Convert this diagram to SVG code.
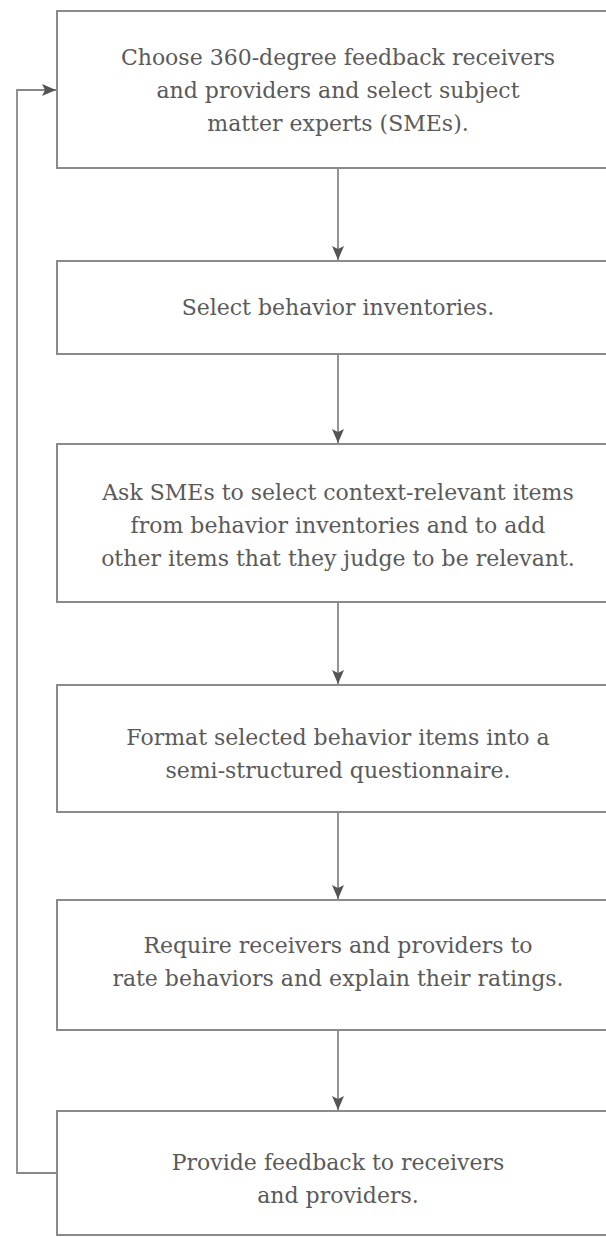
<svg xmlns="http://www.w3.org/2000/svg" width="606" height="1237" viewBox="0 0 606 1237">
<style>
.box{fill:#ffffff;stroke:#8a8a8a;stroke-width:2}
.lbl{font-family:"DejaVu Serif","Liberation Serif",serif;font-size:22px;fill:#5a5a5a;text-anchor:middle}
.con{fill:none;stroke:#888;stroke-width:1.8}
</style>
<defs>
<marker id="ah" viewBox="0 0 14 12" refX="14" refY="6" markerWidth="14" markerHeight="12" markerUnits="userSpaceOnUse" orient="auto">
<path d="M0,0 L14,6 L0,12 L3,6 Z" fill="#555"/>
</marker>
</defs>
<rect width="606" height="1237" fill="#ffffff"/>
<g id="connectors">
<line class="con" x1="338" y1="168" x2="338" y2="260" marker-end="url(#ah)"/>
<line class="con" x1="338" y1="354" x2="338" y2="443" marker-end="url(#ah)"/>
<line class="con" x1="338" y1="602" x2="338" y2="684" marker-end="url(#ah)"/>
<line class="con" x1="338" y1="812" x2="338" y2="899" marker-end="url(#ah)"/>
<line class="con" x1="338" y1="1030" x2="338" y2="1110" marker-end="url(#ah)"/>
<path class="con" d="M57,1173 L17,1173 L17,90 L56,90" marker-end="url(#ah)"/>
</g>
<g id="n1">
<rect class="box" x="57" y="11" width="570" height="157"/>
<text class="lbl" x="338" y="65">Choose 360-degree feedback receivers</text>
<text class="lbl" x="338" y="98">and providers and select subject</text>
<text class="lbl" x="338" y="131">matter experts (SMEs).</text>
</g>
<g id="n2">
<rect class="box" x="57" y="261" width="570" height="93"/>
<text class="lbl" x="338" y="315">Select behavior inventories.</text>
</g>
<g id="n3">
<rect class="box" x="57" y="444" width="570" height="158"/>
<text class="lbl" x="338" y="500">Ask SMEs to select context-relevant items</text>
<text class="lbl" x="338" y="533">from behavior inventories and to add</text>
<text class="lbl" x="338" y="566">other items that they judge to be relevant.</text>
</g>
<g id="n4">
<rect class="box" x="57" y="685" width="570" height="127"/>
<text class="lbl" x="338" y="745">Format selected behavior items into a</text>
<text class="lbl" x="338" y="778">semi-structured questionnaire.</text>
</g>
<g id="n5">
<rect class="box" x="57" y="900" width="570" height="130"/>
<text class="lbl" x="338" y="953">Require receivers and providers to</text>
<text class="lbl" x="338" y="986">rate behaviors and explain their ratings.</text>
</g>
<g id="n6">
<rect class="box" x="57" y="1111" width="570" height="124"/>
<text class="lbl" x="338" y="1170">Provide feedback to receivers</text>
<text class="lbl" x="338" y="1203">and providers.</text>
</g>
</svg>
